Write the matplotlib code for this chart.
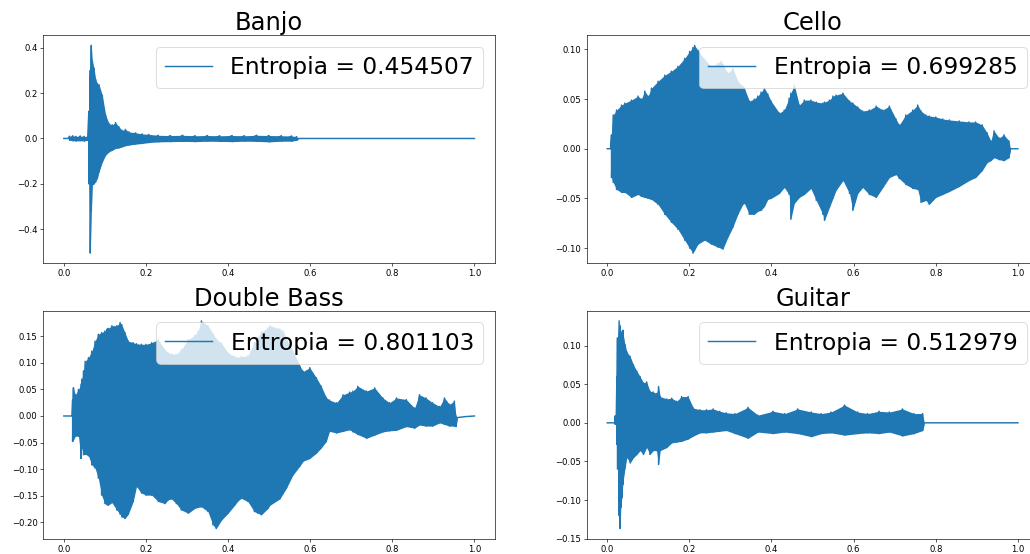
import numpy as np
import matplotlib
matplotlib.use("Agg")
import matplotlib.pyplot as plt

# ---------------- data (envelopes) ----------------
titles = ["Banjo", "Cello", "Double Bass", "Guitar"]
entropies = [0.454507, 0.699285, 0.801103, 0.512979]

banjo_t = [0.000, 0.010, 0.014, 0.022, 0.030, 0.040, 0.050, 0.058, 0.061, 0.0645,
           0.067, 0.0696, 0.0736, 0.0777, 0.0817, 0.0858, 0.0939, 0.102, 0.110, 0.118,
           0.126, 0.134, 0.142, 0.150, 0.159, 0.175, 0.191, 0.207, 0.23, 0.26,
           0.29, 0.32, 0.35, 0.38, 0.41, 0.44, 0.47, 0.50, 0.53, 0.555,
           0.567, 0.572, 1.000]
banjo_hi = [0.0, 0.0, 0.010, 0.012, 0.009, 0.011, 0.009, 0.008, 0.12, 0.30,
            0.41, 0.34, 0.31, 0.26, 0.242, 0.237, 0.19, 0.103, 0.066, 0.060,
            0.070, 0.052, 0.036, 0.040, 0.029, 0.025, 0.020, 0.018, 0.014, 0.013,
            0.014, 0.012, 0.013, 0.012, 0.013, 0.012, 0.014, 0.013, 0.012, 0.011,
            0.008, 0.0, 0.0]
banjo_lo = [0.0, 0.0, -0.008, -0.010, -0.011, -0.010, -0.011, -0.008, -0.20, -0.505,
            -0.32, -0.205, -0.20, -0.19, -0.175, -0.147, -0.103, -0.073, -0.059, -0.052,
            -0.044, -0.042, -0.037, -0.032, -0.029, -0.025, -0.022, -0.018, -0.015, -0.014,
            -0.013, -0.014, -0.012, -0.013, -0.014, -0.012, -0.013, -0.015, -0.012, -0.012,
            -0.008, 0.0, 0.0]

cello_t = [0.000, 0.008, 0.0105, 0.0146, 0.0227, 0.0348, 0.0429, 0.059, 0.075, 0.083,
           0.0914, 0.0995, 0.1076, 0.1238, 0.140, 0.156, 0.172, 0.1885, 0.2006, 0.2087,
           0.2128, 0.2209, 0.237, 0.2532, 0.2694, 0.2775, 0.2816, 0.2937, 0.3058, 0.318,
           0.330, 0.334, 0.346, 0.358, 0.3665, 0.3746, 0.3827, 0.391, 0.399, 0.419,
           0.431, 0.443, 0.447, 0.4555, 0.4676, 0.4798, 0.4959, 0.509, 0.525, 0.529,
           0.541, 0.5495, 0.557, 0.574, 0.590, 0.598, 0.610, 0.622, 0.638, 0.655,
           0.671, 0.687, 0.703, 0.711, 0.727, 0.744, 0.756, 0.764, 0.776, 0.784,
           0.800, 0.817, 0.833, 0.857, 0.881, 0.897, 0.913, 0.925, 0.934, 0.942,
           0.954, 0.966, 0.978, 0.982, 1.000]
cello_hi = [0.0, 0.0, 0.014, 0.034, 0.039, 0.044, 0.046, 0.049, 0.053, 0.050,
            0.058, 0.053, 0.061, 0.068, 0.074, 0.078, 0.083, 0.091, 0.098, 0.102,
            0.104, 0.099, 0.090, 0.083, 0.086, 0.088, 0.085, 0.076, 0.081, 0.068,
            0.063, 0.061, 0.048, 0.050, 0.053, 0.057, 0.061, 0.055, 0.048, 0.036,
            0.039, 0.051, 0.056, 0.064, 0.044, 0.049, 0.049, 0.047, 0.046, 0.047,
            0.049, 0.053, 0.054, 0.056, 0.048, 0.046, 0.042, 0.038, 0.039, 0.043,
            0.039, 0.043, 0.030, 0.024, 0.034, 0.039, 0.044, 0.038, 0.034, 0.033,
            0.032, 0.030, 0.029, 0.028, 0.027, 0.027, 0.024, 0.016, 0.008, 0.018,
            0.011, 0.014, 0.008, 0.0, 0.0]
cello_lo = [0.0, 0.0, -0.029, -0.034, -0.041, -0.044, -0.044, -0.049, -0.046, -0.048,
            -0.049, -0.050, -0.051, -0.056, -0.066, -0.074, -0.081, -0.092, -0.100, -0.105,
            -0.102, -0.096, -0.092, -0.096, -0.099, -0.100, -0.101, -0.089, -0.079, -0.066,
            -0.056, -0.055, -0.066, -0.066, -0.063, -0.062, -0.058, -0.051, -0.050, -0.045,
            -0.039, -0.046, -0.071, -0.055, -0.049, -0.046, -0.040, -0.052, -0.066, -0.072,
            -0.059, -0.050, -0.042, -0.032, -0.045, -0.062, -0.045, -0.039, -0.046, -0.049,
            -0.039, -0.029, -0.026, -0.030, -0.036, -0.040, -0.041, -0.054, -0.052, -0.056,
            -0.049, -0.046, -0.043, -0.038, -0.032, -0.029, -0.022, -0.014, -0.012, -0.009,
            -0.011, -0.012, -0.009, 0.0, 0.0]

bass_t = [0.000, 0.020, 0.0215, 0.0235, 0.028, 0.0357, 0.042, 0.0438, 0.048, 0.052,
          0.060, 0.068, 0.076, 0.084, 0.092, 0.100, 0.1045, 0.108, 0.117, 0.129,
          0.137, 0.141, 0.149, 0.157, 0.169, 0.177, 0.189, 0.200, 0.214, 0.230,
          0.246, 0.254, 0.262, 0.274, 0.286, 0.303, 0.319, 0.327, 0.335, 0.351,
          0.363, 0.371, 0.384, 0.400, 0.416, 0.424, 0.432, 0.448, 0.464, 0.472,
          0.481, 0.497, 0.502, 0.526, 0.534, 0.542, 0.558, 0.575, 0.583, 0.599,
          0.615, 0.627, 0.639, 0.647, 0.664, 0.680, 0.696, 0.704, 0.716, 0.737,
          0.757, 0.777, 0.793, 0.810, 0.834, 0.854, 0.866, 0.882, 0.898, 0.915,
          0.927, 0.939, 0.951, 0.955, 0.958, 0.980, 1.000]
bass_hi = [0.0, 0.0, 0.030, 0.053, 0.040, 0.050, 0.060, 0.069, 0.085, 0.103,
           0.110, 0.122, 0.141, 0.154, 0.157, 0.160, 0.163, 0.165, 0.170, 0.170,
           0.176, 0.172, 0.157, 0.141, 0.138, 0.136, 0.135, 0.135, 0.138, 0.144,
           0.125, 0.119, 0.117, 0.116, 0.125, 0.144, 0.152, 0.160, 0.179, 0.170,
           0.155, 0.145, 0.137, 0.119, 0.112, 0.110, 0.112, 0.113, 0.138, 0.148,
           0.158, 0.166, 0.170, 0.164, 0.160, 0.145, 0.122, 0.094, 0.084, 0.091,
           0.072, 0.056, 0.035, 0.030, 0.025, 0.040, 0.045, 0.047, 0.056, 0.047,
           0.053, 0.034, 0.025, 0.034, 0.031, 0.015, 0.040, 0.034, 0.025, 0.018,
           0.034, 0.022, 0.028, 0.000, -0.003, -0.001, 0.0]
bass_lo = [0.0, 0.0, -0.048, -0.045, -0.038, -0.038, -0.080, -0.060, -0.073, -0.072,
           -0.075, -0.092, -0.098, -0.117, -0.149, -0.165, -0.167, -0.168, -0.163, -0.177,
           -0.185, -0.190, -0.193, -0.185, -0.161, -0.133, -0.145, -0.149, -0.149, -0.161,
           -0.165, -0.158, -0.156, -0.165, -0.177, -0.183, -0.174, -0.172, -0.171, -0.180,
           -0.205, -0.212, -0.196, -0.183, -0.168, -0.160, -0.155, -0.161, -0.180, -0.183,
           -0.186, -0.174, -0.168, -0.156, -0.146, -0.136, -0.111, -0.094, -0.085, -0.080,
           -0.070, -0.060, -0.048, -0.029, -0.032, -0.029, -0.026, -0.030, -0.035, -0.042,
           -0.036, -0.030, -0.028, -0.027, -0.020, -0.023, -0.017, -0.019, -0.019, -0.013,
           -0.016, -0.019, -0.019, -0.020, -0.003, -0.001, 0.0]

guitar_t = [0.000, 0.018, 0.0194, 0.0218, 0.0235, 0.025, 0.029, 0.0316, 0.033, 0.0356,
            0.038, 0.0396, 0.0437, 0.0477, 0.0558, 0.064, 0.072, 0.080, 0.088, 0.096,
            0.104, 0.112, 0.120, 0.125, 0.129, 0.145, 0.157, 0.169, 0.181, 0.197,
            0.210, 0.226, 0.242, 0.258, 0.274, 0.290, 0.311, 0.343, 0.367, 0.404,
            0.432, 0.464, 0.497, 0.521, 0.545, 0.578, 0.610, 0.634, 0.662, 0.687,
            0.719, 0.747, 0.768, 0.772, 1.000]
guitar_hi = [0.0, 0.0, 0.009, 0.009, 0.060, 0.110, 0.132, 0.125, 0.118, 0.115,
             0.120, 0.110, 0.101, 0.092, 0.086, 0.075, 0.067, 0.060, 0.052, 0.053,
             0.041, 0.040, 0.038, 0.047, 0.034, 0.031, 0.032, 0.028, 0.034, 0.034,
             0.019, 0.017, 0.017, 0.018, 0.015, 0.013, 0.012, 0.020, 0.010, 0.015,
             0.012, 0.018, 0.014, 0.012, 0.014, 0.023, 0.014, 0.012, 0.015, 0.014,
             0.018, 0.012, 0.012, 0.0, 0.0]
guitar_lo = [0.0, 0.0, -0.002, 0.000, -0.028, -0.060, -0.120, -0.137, -0.110, -0.097,
             -0.080, -0.071, -0.058, -0.045, -0.052, -0.045, -0.041, -0.036, -0.041, -0.032,
             -0.041, -0.036, -0.036, -0.054, -0.036, -0.032, -0.026, -0.025, -0.024, -0.021,
             -0.017, -0.013, -0.013, -0.012, -0.011, -0.010, -0.014, -0.020, -0.012, -0.014,
             -0.012, -0.014, -0.018, -0.014, -0.013, -0.016, -0.014, -0.013, -0.014, -0.012,
             -0.017, -0.014, -0.010, 0.0, 0.0]

series = [(banjo_t, banjo_hi, banjo_lo),
          (cello_t, cello_hi, cello_lo),
          (bass_t, bass_hi, bass_lo),
          (guitar_t, guitar_hi, guitar_lo)]

# ---------------- figure ----------------
DPI = 58
fig = plt.figure(figsize=(1030 / DPI, 554 / DPI), dpi=DPI)

W, H = 0.4386, 0.4124
positions = [(0.0420, 0.5244), (0.5696, 0.5244), (0.0420, 0.0271), (0.5696, 0.0271)]

color = "#1f77b4"
for (left, bottom), title, ent, (t, hi, lo) in zip(positions, titles, entropies, series):
    ax = fig.add_axes([left, bottom, W, H])
    t = np.asarray(t)
    hi = np.asarray(hi)
    lo = np.asarray(lo)
    ax.fill_between(t, lo, hi, color=color, linewidth=0)
    xz = np.repeat(t, 2)
    yz = np.column_stack([hi, lo]).ravel()
    ax.plot(xz, yz, color=color, lw=1.8, label=f"Entropia = {ent:.6f}")
    ax.set_title(title, fontsize=30)
    ax.legend(loc="upper right", fontsize=29)
    ax.tick_params(labelsize=10.5)

fig.savefig("out.png", dpi=DPI)
